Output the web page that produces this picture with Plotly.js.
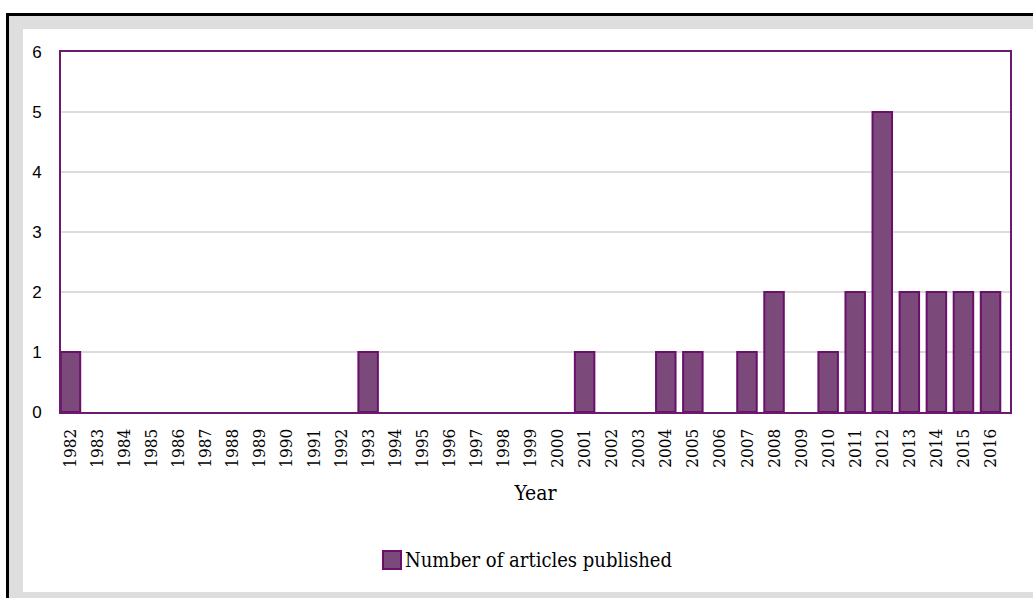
<!DOCTYPE html>
<html>
<head>
<meta charset="utf-8">
<script src="https://cdn.plot.ly/plotly-3.0.1.min.js"></script>
<style>
  html, body { margin: 0; padding: 0; width: 1033px; height: 598px; background: #ffffff; overflow: hidden; }
  #frame { position: absolute; left: 6px; top: 13px; width: 1027px; height: 585px;
           border-left: 3px solid #000; border-top: 3px solid #000; background: #dedede; box-sizing: border-box; }
  #chart { position: absolute; left: 23px; top: 29px; width: 1010px; height: 563px; background: #ffffff; }
</style>
</head>
<body>
<div id="frame"></div>
<div id="chart"></div>
<script>
const years = ["1982","1983","1984","1985","1986","1987","1988","1989","1990","1991","1992","1993","1994","1995","1996","1997","1998","1999","2000","2001","2002","2003","2004","2005","2006","2007","2008","2009","2010","2011","2012","2013","2014","2015","2016"];
const articles = [1,0,0,0,0,0,0,0,0,0,0,1,0,0,0,0,0,0,0,1,0,0,1,1,0,1,2,0,1,2,5,2,2,2,2];
const seriesName = "Number of articles published";
const xTitle = "Year";
const yTicks = [0,1,2,3,4,5,6];

const serif = "DejaVu Serif Condensed, DejaVu Serif, serif";
const outlineWidths = articles.map(v => v > 0 ? 2 : 0);

Plotly.newPlot("chart", [{
  type: "bar",
  x: years,
  y: articles,
  name: seriesName,
  showlegend: false,
  marker: { color: "#7b4a7b", line: { color: "#6a0f6c", width: outlineWidths } },
  hoverinfo: "x+y"
}], {
  width: 1010,
  height: 563,
  margin: { l: 38, r: 23, t: 23, b: 180 },
  paper_bgcolor: "#ffffff",
  plot_bgcolor: "#ffffff",
  bargap: 0.28,
  showlegend: false,
  xaxis: {
    type: "category",
    range: [-0.35, 34.72],
    tickangle: -90,
    tickfont: { family: serif, size: 17, color: "#000" },
    ticks: "", ticklabelstandoff: 8,
    showline: true, linecolor: "#6b1a6e", linewidth: 2, mirror: true,
    showgrid: false, zeroline: false,
    title: { text: xTitle, font: { family: serif, size: 21, color: "#000" }, standoff: 19 }
  },
  yaxis: {
    range: [0, 6],
    tickvals: yTicks,
    tickfont: { family: "Liberation Sans, Arial, sans-serif", size: 17, color: "#000" },
    ticks: "", ticklabelstandoff: 14,
    showline: true, linecolor: "#6b1a6e", linewidth: 2, mirror: true,
    showgrid: true, gridcolor: "#dcdcdc", gridwidth: 1.5,
    zeroline: false
  },
  shapes: [{
    type: "rect", xref: "paper", yref: "paper",
    x0: 0.3393, x1: 0.3583, y0: -0.386, y1: -0.436,
    fillcolor: "#7b4a7b", line: { color: "#6a0f6c", width: 2 }
  }],
  annotations: [{
    xref: "paper", yref: "paper", x: 0.3604, y: -0.411,
    xanchor: "left", yanchor: "middle", showarrow: false,
    text: seriesName, font: { family: serif, size: 20, color: "#000" }
  }]
}, { displayModeBar: false });
</script>
</body>
</html>
